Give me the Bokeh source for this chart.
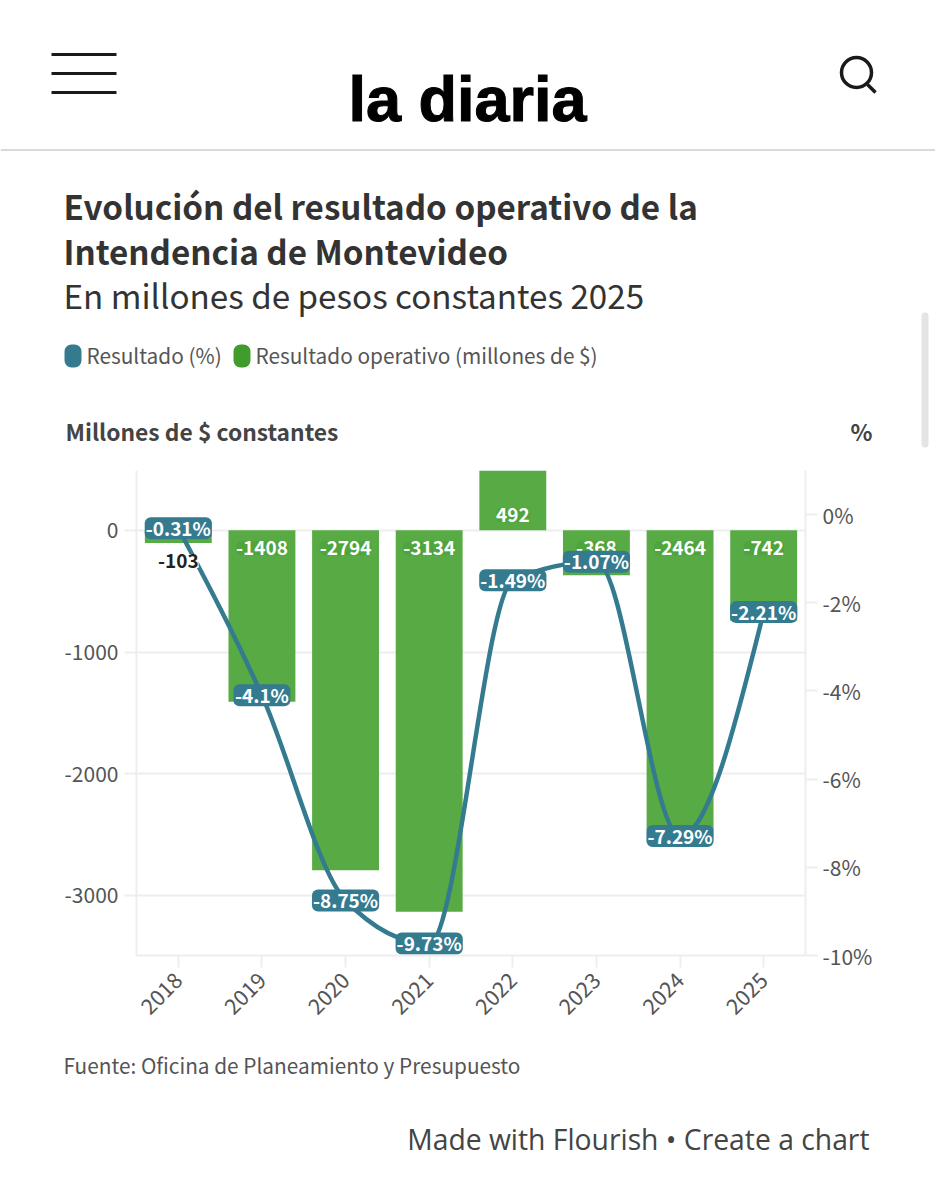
from bokeh.embed import file_html
from bokeh.resources import INLINE
from bokeh.plotting import figure
from bokeh.layouts import column
from bokeh.core.properties import value
from bokeh.models import Range1d, LinearAxis, FixedTicker, PrintfTickFormatter, NumeralTickFormatter, ColumnDataSource
import math

years = [2018, 2019, 2020, 2021, 2022, 2023, 2024, 2025]
resultado_millones = [-103, -1408, -2794, -3134, 492, -368, -2464, -742]
resultado_pct = [-0.31, -4.1, -8.75, -9.73, -1.49, -1.07, -7.29, -2.21]
pct_labels = ["-0.31%", "-4.1%", "-8.75%", "-9.73%", "-1.49%", "-1.07%", "-7.29%", "-2.21%"]
left_ticks = [0, -1000, -2000, -3000]
right_ticks = [0, -2, -4, -6, -8, -10]

FONT = value("Noto Sans CJK SC")
GREEN = "#58ab44"
LEG_GREEN = "#429c2d"
HALO_GREEN = "#4fa43b"
TEAL = "#347b90"
GRID = "#eeeeee"
INK = "#333333"
MUTED = "#555555"


def blank(height, y0, y1):
    f = figure(width=935, height=height, output_backend="svg", toolbar_location=None,
               x_range=Range1d(0, 935), y_range=Range1d(y1, y0), min_border=0,
               outline_line_color=None, tools="", frame_align=False)
    f.axis.visible = False
    f.grid.visible = False
    return f


# ---- page header ----
head = blank(470, 0, 470)
for yy in (54, 73, 92):
    head.segment(51, yy, 116, yy, line_color="#1a1a1a", line_width=3)
head.segment(0, 149.5, 935, 149.5, line_color="#cccccc", line_width=1.5)
head.text([348], [98], ["la diaria"], text_font=value("Liberation Sans"), text_font_style="bold",
          text_font_size="63px", text_color="#000000", text_outline_color="#000000",
          text_baseline="alphabetic")
head.circle(x=[856], y=[72], radius=15, fill_color=None, line_color="#1a1a1a", line_width=3.5)
head.segment(867, 84, 875, 92, line_color="#1a1a1a", line_width=3.5)
head.quad(left=[921], right=[928], top=[312], bottom=[447], fill_color="#e4e4e4", line_color=None, border_radius=3)

head.text([63, 63], [205, 250], ["Evolución del resultado operativo de la", "Intendencia de Montevideo"],
          text_font=FONT, text_font_style="bold", text_font_size="33.2px", text_color=INK, text_baseline="middle")
head.text([63], [294], ["En millones de pesos constantes 2025"], text_font=FONT,
          text_font_size="33.2px", text_color=INK, text_baseline="middle")
head.quad(left=[64], right=[81], top=[344], bottom=[367], fill_color=TEAL, line_color=None, border_radius=7)
head.quad(left=[233], right=[250], top=[344], bottom=[367], fill_color=LEG_GREEN, line_color=None, border_radius=7)
head.text([86, 255], [354, 354], ["Resultado (%)", "Resultado operativo (millones de $)"], text_font=FONT,
          text_font_size="20.8px", text_color=MUTED, text_baseline="middle")
head.text([65], [431], ["Millones de $ constantes"], text_font=FONT, text_font_style="bold",
          text_font_size="22.8px", text_color="#444444", text_baseline="middle")
head.text([872], [431], ["%"], text_font=FONT, text_font_style="bold", text_align="right",
          text_font_size="22.8px", text_color="#444444", text_baseline="middle")

# ---- chart ----
p = figure(width=935, height=570, output_backend="svg", toolbar_location=None, tools="",
           x_range=Range1d(2017.5, 2025.5), y_range=Range1d(-3494, 492),
           min_border_left=136, min_border_right=130, min_border_top=0, min_border_bottom=85,
           outline_line_color=None, frame_align=False)
p.extra_y_ranges = {"pct": Range1d(-10, 1)}

TICK_FONT = "Noto Sans CJK SC"
for ax in (p.xaxis[0], p.yaxis[0]):
    ax.axis_line_color = GRID
    ax.axis_line_width = 2
    ax.major_tick_line_color = GRID
    ax.major_tick_line_width = 2
    ax.minor_tick_line_color = None
    ax.major_tick_in = 0
    ax.major_tick_out = 12
    ax.major_label_text_font = TICK_FONT
    ax.major_label_text_color = MUTED
    ax.major_label_text_font_size = "21px"

p.xaxis[0].ticker = FixedTicker(ticks=years)
p.xaxis[0].formatter = NumeralTickFormatter(format="0")
p.xaxis[0].major_label_orientation = math.pi / 4
p.xaxis[0].major_label_text_font_size = "21.5px"
p.xaxis[0].major_label_standoff = 9
p.yaxis[0].ticker = FixedTicker(ticks=left_ticks)
p.yaxis[0].formatter = NumeralTickFormatter(format="0")
p.yaxis[0].major_label_standoff = 6

right = LinearAxis(y_range_name="pct", ticker=FixedTicker(ticks=right_ticks),
                   formatter=PrintfTickFormatter(format="%d%%"))
right.axis_line_color = GRID
right.axis_line_width = 2
right.major_tick_line_color = GRID
right.major_tick_line_width = 2
right.minor_tick_line_color = None
right.major_tick_in = 0
right.major_tick_out = 12
right.major_label_standoff = 5
right.major_label_text_font = TICK_FONT
right.major_label_text_color = MUTED
right.major_label_text_font_size = "21px"
p.add_layout(right, "right")

p.xgrid.visible = False
p.ygrid[0].ticker = FixedTicker(ticks=left_ticks)
p.ygrid[0].grid_line_color = GRID
p.ygrid[0].grid_line_width = 2

p.vbar(x=years, top=resultado_millones, bottom=0, width=0.8, fill_color=GREEN, line_color=None)


# monotone-X curve through the percentage points, as Bezier segments
def monotone_tangents(xs, ys):
    n = len(xs)
    t = [0.0] * n
    for i in range(1, n - 1):
        h0, h1 = xs[i] - xs[i - 1], xs[i + 1] - xs[i]
        s0, s1 = (ys[i] - ys[i - 1]) / h0, (ys[i + 1] - ys[i]) / h1
        m = (s0 * h1 + s1 * h0) / (h0 + h1)
        sg = (1 if s0 > 0 else -1) + (1 if s1 > 0 else -1)
        t[i] = sg * min(abs(s0), abs(s1), 0.5 * abs(m))
    t[0] = (3 * (ys[1] - ys[0]) / (xs[1] - xs[0]) - t[1]) / 2
    t[-1] = (3 * (ys[-1] - ys[-2]) / (xs[-1] - xs[-2]) - t[-2]) / 2
    return t


tan = monotone_tangents(years, resultado_pct)
curve = ColumnDataSource(dict(
    x0=years[:-1], y0=resultado_pct[:-1], x1=years[1:], y1=resultado_pct[1:],
    cx0=[x + 1 / 3 for x in years[:-1]],
    cy0=[y + m / 3 for y, m in zip(resultado_pct[:-1], tan[:-1])],
    cx1=[x - 1 / 3 for x in years[1:]],
    cy1=[y - m / 3 for y, m in zip(resultado_pct[1:], tan[1:])],
))
p.bezier(x0="x0", y0="y0", x1="x1", y1="y1", cx0="cx0", cy0="cy0", cx1="cx1", cy1="cy1",
         source=curve, line_color=TEAL, line_width=4.5, y_range_name="pct")

# bar value labels
neg = [(x, v) for x, v in zip(years, resultado_millones) if v < -300]
pos = [(x, v) for x, v in zip(years, resultado_millones) if v > 0]
small = [(x, v) for x, v in zip(years, resultado_millones) if -300 <= v < 0]
common = dict(text_font=FONT, text_font_style="bold", text_font_size="19px", text_align="center",
              text_baseline="middle")
p.text([x for x, _ in neg], [0] * len(neg), [str(v) for _, v in neg], y_offset=18,
       text_color="white", background_fill_color=HALO_GREEN, padding=0, border_radius=5, **common)
p.text([x for x, _ in pos], [0] * len(pos), [str(v) for _, v in pos], y_offset=-15,
       text_color="white", background_fill_color=HALO_GREEN, padding=0, border_radius=5, **common)
p.text([x for x, _ in small], [v for _, v in small], [str(v) for _, v in small], y_offset=18,
       text_color="#222222", background_fill_color="white", padding=0, **common)
# percentage labels on a halo-like plate hugging the text
p.rect(x=years, y=resultado_pct, width=[len(s) * 10.2 + 6 for s in pct_labels], height=22,
       width_units="screen", height_units="screen", fill_color=TEAL, line_color=None,
       border_radius=6, y_range_name="pct")
p.text(years, resultado_pct, pct_labels, text_color="white", y_offset=-1, y_range_name="pct", **common)

# ---- footer ----
foot = blank(160, 1040, 1200)
foot.text([63], [1064], ["Fuente: Oficina de Planeamiento y Presupuesto"], text_font=FONT,
          text_font_size="20.8px", text_color=MUTED, text_baseline="middle")
foot.text([869], [1138], ["Made with Flourish • Create a chart"], text_font=value("Open Sans"),
          text_font_size="28.3px", text_color="#444444", text_align="right", text_baseline="middle")

page = column(head, p, foot, spacing=0)
open("out.html", "w").write(file_html(page, INLINE))
